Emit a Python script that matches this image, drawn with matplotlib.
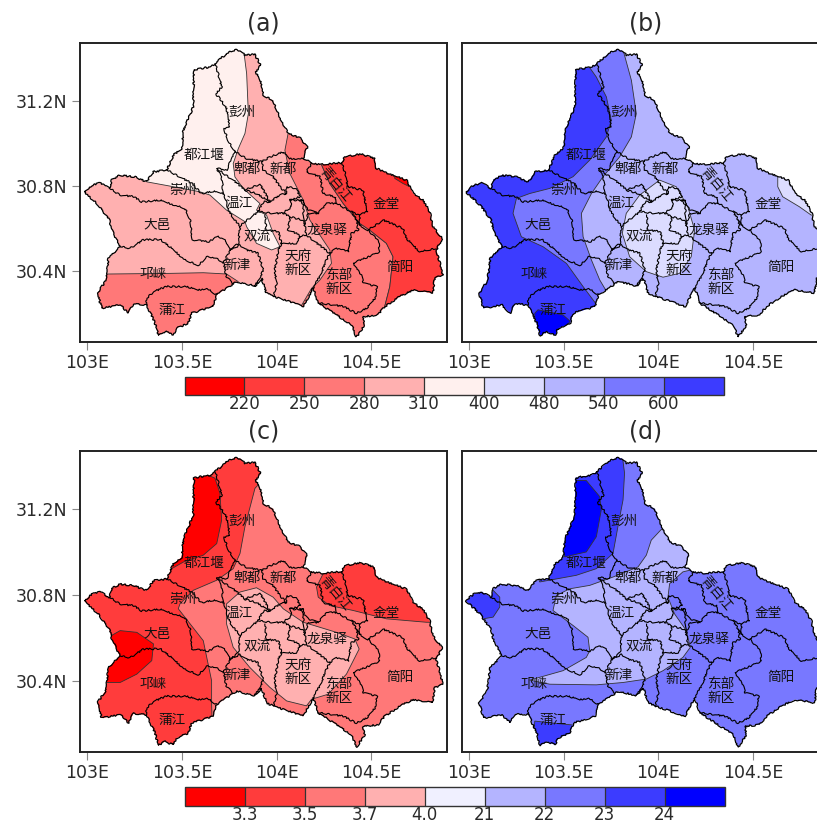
import matplotlib
matplotlib.use("Agg")
import matplotlib.pyplot as plt
from matplotlib.patches import Polygon
from matplotlib.colors import ListedColormap, BoundaryNorm
from matplotlib.colorbar import ColorbarBase

# ---- map geometry (lon, lat) ----
OUTLINE = [(103.735,31.422),(103.779,31.440),(103.806,31.437),(103.832,31.414),(103.885,31.418),(103.915,31.367),
(103.890,31.336),(103.920,31.281),(103.929,31.226),(103.981,31.203),(104.017,31.117),(104.060,31.047),(104.122,31.028),
(104.161,30.984),(104.140,30.929),(104.184,30.909),(104.236,30.901),(104.342,30.909),(104.359,30.937),(104.447,30.950),
(104.518,30.929),(104.526,30.883),(104.597,30.856),(104.685,30.828),(104.720,30.765),(104.772,30.734),(104.808,30.679),
(104.825,30.609),(104.874,30.554),(104.843,30.500),(104.878,30.383),(104.834,30.367),(104.825,30.297),(104.720,30.312),
(104.649,30.281),(104.570,30.234),(104.535,30.195),(104.456,30.187),(104.465,30.148),(104.421,30.090),(104.395,30.148),
(104.342,30.179),(104.219,30.250),(104.192,30.320),(104.140,30.234),(104.052,30.262),(103.985,30.281),(103.946,30.297),
(103.920,30.367),(103.885,30.331),(103.788,30.351),(103.735,30.320),(103.683,30.289),(103.665,30.234),(103.551,30.203),
(103.533,30.156),(103.472,30.133),(103.454,30.101),(103.410,30.117),(103.375,30.097),(103.357,30.156),(103.313,30.242),
(103.243,30.247),(103.217,30.203),(103.173,30.242),(103.076,30.226),(103.053,30.297),(103.094,30.351),(103.102,30.390),
(103.111,30.461),(103.173,30.515),(103.129,30.593),(103.116,30.640),(103.058,30.711),(102.983,30.773),(103.023,30.804),
(103.067,30.815),(103.116,30.789),(103.129,30.831),(103.173,30.851),(103.252,30.843),(103.313,30.820),(103.349,30.867),
(103.419,30.875),(103.454,30.945),(103.498,30.976),(103.507,31.062),(103.559,31.172),(103.563,31.347),(103.647,31.359),
(103.674,31.375)]

BORDERS = [
 [(103.674,31.375),(103.691,31.328),(103.709,31.265),(103.677,31.234),(103.700,31.211),(103.735,31.164),(103.753,31.078),
  (103.721,31.070),(103.744,31.015),(103.779,30.961),(103.753,30.914),(103.735,30.875),(103.683,30.883),(103.709,30.843),
  (103.718,30.765),(103.753,30.672),(103.806,30.609),(103.797,30.531),(103.753,30.500)],
 [(103.779,30.961),(103.841,30.929),(103.920,30.914),(103.964,30.937),(104.034,30.961),(104.069,30.929),(104.140,30.929)],
 [(103.419,30.875),(103.489,30.843),(103.551,30.812),(103.603,30.765),(103.665,30.776),(103.718,30.765)],
 [(103.116,30.789),(103.173,30.758),(103.243,30.750),(103.287,30.726),(103.384,30.734),(103.436,30.718),(103.516,30.695),
  (103.545,30.640),(103.551,30.547),(103.639,30.539),(103.691,30.565),(103.735,30.539),(103.753,30.500)],
 [(103.173,30.515),(103.225,30.508),(103.296,30.547),(103.384,30.550),(103.436,30.515),(103.516,30.453),(103.586,30.429),
  (103.630,30.468),(103.683,30.461),(103.718,30.437),(103.735,30.375),(103.770,30.343)],
 [(103.753,30.500),(103.718,30.437)],
 [(103.753,30.500),(103.806,30.523),(103.841,30.500),(103.902,30.484),(103.929,30.406),(103.911,30.367),(103.885,30.331)],
 [(103.313,30.242),(103.313,30.273),(103.349,30.304),(103.419,30.328),(103.524,30.328),(103.586,30.312),(103.630,30.320),(103.683,30.289)],
 [(103.691,30.875),(103.770,30.828),(103.832,30.781),(103.893,30.765),(103.964,30.726)],
 [(103.832,30.781),(103.911,30.809),(103.964,30.726)],
 [(103.920,30.914),(103.929,30.875),(103.981,30.843),(104.017,30.797),(104.052,30.765),(104.017,30.758),(103.964,30.726)],
 [(104.052,30.765),(104.052,30.797),(104.104,30.789),(104.122,30.750),(104.069,30.734),(104.140,30.734),(104.122,30.734)],
 [(104.184,30.909),(104.157,30.867),(104.228,30.843),(104.245,30.765),(104.307,30.750),(104.315,30.718),(104.263,30.718),
  (104.219,30.672),(104.166,30.687),(104.122,30.734)],
 [(104.148,30.617),(104.166,30.672),(104.219,30.672)],
 [(104.315,30.718),(104.395,30.679),(104.421,30.640),(104.430,30.593),(104.395,30.578),(104.377,30.492),(104.315,30.508),(104.280,30.484)],
 [(104.122,30.562),(104.157,30.570),(104.280,30.484),(104.254,30.437),(104.236,30.390),(104.192,30.320)],
 [(104.157,30.570),(104.148,30.617)],
 [(103.985,30.281),(103.999,30.343),(103.990,30.406),(104.008,30.500),(104.025,30.531),(104.104,30.531),(104.122,30.562)],
 [(103.806,30.609),(103.832,30.633),(103.902,30.679),(103.929,30.726),(103.964,30.726)],
 [(103.902,30.679),(103.981,30.672),(104.034,30.672),(104.069,30.656),(104.140,30.640),(104.148,30.617)],
 [(103.937,30.664),(103.946,30.593),(104.008,30.586),(104.025,30.531)],
 [(104.034,30.672),(104.078,30.703),(104.069,30.734)],
 [(104.069,30.656),(104.060,30.593),(104.104,30.578),(104.122,30.562)],
 [(104.140,30.734),(104.140,30.640)],
 [(104.342,30.909),(104.368,30.843),(104.372,30.797),(104.456,30.781),(104.477,30.679),(104.438,30.664),(104.438,30.617),(104.482,30.593)],
 [(104.438,30.664),(104.395,30.679)],
 [(104.421,30.640),(104.438,30.617)],
 [(104.482,30.593),(104.562,30.640),(104.667,30.601),(104.685,30.554),(104.755,30.492),(104.843,30.508)],
 [(104.219,30.250),(104.298,30.242),(104.351,30.234),(104.421,30.203),(104.474,30.226),(104.518,30.273),(104.530,30.328),
  (104.456,30.343),(104.447,30.383),(104.403,30.437),(104.544,30.492),(104.535,30.547),(104.482,30.593)],
]

# ---- contour zones (lon, lat), painted in order over the base colour ----
A_MID = [(103.823,31.453),(103.841,31.328),(103.850,31.140),(103.832,31.047),(103.797,30.976),(103.770,30.906),(103.779,30.843),
 (103.823,30.789),(103.911,30.718),(103.893,30.687),(103.946,30.664),(103.981,30.578),(104.017,30.515),(103.973,30.500),
 (103.893,30.531),(103.841,30.609),(103.832,30.633),(103.735,30.687),(103.647,30.758),(103.595,30.773),(103.454,30.797),
 (103.313,30.820),(103.261,30.859),(103.349,31.484),(103.823,31.484)]
A_SW = [(102.997,30.386),(103.111,30.387),(103.436,30.390),(103.612,30.393),(103.735,30.387),(103.797,30.351),(103.735,30.297),
 (103.683,30.047),(102.997,30.047)]
A_EAST = [(104.060,31.047),(104.043,30.968),(104.069,30.859),(104.140,30.734),(104.175,30.640),(104.280,30.500),(104.289,30.437),
 (104.228,30.359),(104.184,30.320),(104.122,30.226),(104.140,30.047),(104.570,30.047),(104.570,30.234),(104.597,30.328),
 (104.614,30.468),(104.579,30.531),(104.491,30.593),(104.438,30.625),(104.351,30.718),(104.280,30.812),(104.236,30.901),(104.228,31.062)]
A_FAR = [(104.236,30.901),(104.280,30.812),(104.351,30.718),(104.438,30.625),(104.491,30.593),(104.579,30.531),(104.614,30.468),
 (104.597,30.328),(104.570,30.234),(104.570,30.047),(104.931,30.047),(104.931,31.062),(104.228,31.062)]
A_PEAK = [(104.623,30.836),(104.667,30.812),(104.702,30.797),(104.702,30.859),(104.623,30.859)]

B_CORE = [(104.006,30.828),(104.094,30.797),(104.155,30.703),(104.191,30.593),(104.173,30.468),(104.111,30.390),(104.024,30.372),
 (103.936,30.398),(103.848,30.468),(103.809,30.578),(103.830,30.672),(103.901,30.758)]
B_NE = [(104.630,30.844),(104.630,30.797),(104.656,30.750),(104.744,30.703),(104.806,30.664),(104.920,30.656),(104.920,30.906),(104.630,30.906)]
B_WEST = [(103.804,31.469),(103.857,31.297),(103.883,31.140),(103.857,31.031),(103.795,30.937),(103.707,30.844),(103.646,30.765),
 (103.593,30.672),(103.602,30.562),(103.646,30.453),(103.690,30.359),(103.742,30.281),(103.742,30.031),(102.909,30.031),(102.909,31.469)]
B_FAR = [(103.610,31.390),(103.672,31.312),(103.725,31.219),(103.751,31.109),(103.725,31.031),(103.637,30.922),(103.549,30.844),
 (103.426,30.789),(103.320,30.765),(103.250,30.742),(103.232,30.672),(103.276,30.562),(103.391,30.515),(103.514,30.437),
 (103.602,30.328),(103.681,30.234),(103.681,30.031),(102.909,30.031),(102.909,31.390)]
B_PEAK = [(103.347,30.203),(103.364,30.219),(103.496,30.195),(103.535,30.164),(103.496,30.133),(103.461,30.086),(103.461,30.031),(103.347,30.031)]

C_CORE = [(103.893,30.834),(103.981,30.790),(104.034,30.736),(104.140,30.673),(104.315,30.626),(104.412,30.595),(104.435,30.548),
 (104.368,30.431),(104.271,30.337),(104.184,30.314),(104.157,30.283),(104.052,30.306),(103.964,30.369),(103.858,30.462),
 (103.770,30.556),(103.735,30.665),(103.735,30.759),(103.806,30.814)]
C_WEST = [(103.902,31.314),(103.885,31.298),(103.832,31.119),(103.806,30.994),(103.770,30.923),(103.683,30.869),(103.559,30.822),
 (103.489,30.759),(103.480,30.736),(103.612,30.587),(103.656,30.400),(103.656,30.290),(103.665,30.031),(102.909,30.031),
 (102.909,31.484),(103.893,31.484),(103.929,31.375)]
C_NE = [(104.245,30.900),(104.210,30.837),(104.219,30.790),(104.280,30.751),(104.403,30.728),(104.579,30.689),(104.790,30.673),
 (104.931,30.673),(104.931,31.062),(104.245,31.062)]
C_PEAK1 = [(103.445,30.923),(103.507,30.954),(103.612,30.986),(103.683,31.040),(103.709,31.150),(103.700,31.275),(103.674,31.345),
 (103.612,31.369),(103.436,31.369),(103.419,30.923)]
C_PEAK2 = [(103.111,30.603),(103.173,30.634),(103.261,30.626),(103.349,30.572),(103.340,30.494),(103.261,30.431),(103.173,30.392),
 (103.102,30.392),(103.076,30.509)]

D_CORE = [(104.015,31.106),(103.962,31.056),(103.936,30.986),(103.892,30.931),(103.760,30.884),(103.637,30.845),(103.531,30.829),
 (103.461,30.798),(103.443,30.728),(103.549,30.658),(103.628,30.603),(103.637,30.540),(103.619,30.509),(103.496,30.447),
 (103.320,30.403),(103.426,30.384),(103.672,30.381),(103.813,30.392),(103.936,30.408),(104.024,30.447),(104.129,30.509),
 (104.168,30.556),(104.147,30.634),(104.085,30.712),(104.050,30.790),(104.059,30.853),(104.129,30.908),(104.199,30.923),(104.199,31.056)]
D_NW = [(103.804,31.484),(103.821,31.369),(103.813,31.244),(103.786,31.119),(103.760,30.994),(103.672,30.923),(103.566,30.892),
 (103.373,30.861),(103.356,30.900),(103.250,31.212),(103.426,31.484)]
D_PEAK = [(103.619,31.334),(103.690,31.259),(103.698,31.197),(103.672,31.072),(103.619,31.001),(103.505,30.978),(103.479,31.056),(103.496,31.337)]
D_LOBE = [(103.127,30.822),(103.162,30.790),(103.162,30.744),(103.127,30.697),(103.074,30.689),(102.909,30.697),(102.909,30.812),(103.074,30.822)]
D_SOUTH = [(103.347,30.212),(103.426,30.204),(103.566,30.192),(103.566,30.031),(103.331,30.031)]

COLORS_TOP = ['#FF0000','#FF3C3C','#FF7878','#FFB0B0','#FFF0EE','#DCDCFF','#B4B4FF','#7878FF','#3C3CFF']
COLORS_BOT = ['#FF0000','#FF3C3C','#FF7878','#FFB0B0','#F0F0FF','#B4B4FF','#7878FF','#3C3CFF','#0000FF']
LEVELS_TOP = ['220','250','280','310','400','480','540','600']
LEVELS_BOT = ['3.3','3.5','3.7','4.0','21','22','23','24']

# panel -> (title, base colour, [(zone, colour), ...])
PANELS = {
 'a': ('(a)', '#FFB0B0', [(A_MID,'#FFF0EE'),(A_SW,'#FF7878'),(A_EAST,'#FF7878'),(A_FAR,'#FF3C3C'),(A_PEAK,'#FF0000')]),
 'b': ('(b)', '#B4B4FF', [(B_CORE,'#DCDCFF'),(B_NE,'#DCDCFF'),(B_WEST,'#7878FF'),(B_FAR,'#3C3CFF'),(B_PEAK,'#0000FF')]),
 'c': ('(c)', '#FF7878', [(C_CORE,'#FFB0B0'),(C_WEST,'#FF3C3C'),(C_NE,'#FF3C3C'),(C_PEAK1,'#FF0000'),(C_PEAK2,'#FF0000')]),
 'd': ('(d)', '#7878FF', [(D_CORE,'#B4B4FF'),(D_NW,'#3C3CFF'),(D_PEAK,'#0000FF'),(D_LOBE,'#3C3CFF'),(D_SOUTH,'#3C3CFF')]),
}
PLACES = [('彭州',103.816,31.148,0),('都江堰',103.616,30.948,0),('郫都',103.841,30.879,0),('新都',104.034,30.879,0),
 ('青白江',104.307,30.809,-50),('崇州',103.503,30.781,0),('温江',103.802,30.719,0),('金堂',104.579,30.715,0),
 ('大邑',103.366,30.617,0),('双流',103.899,30.562,0),('龙泉驿',104.266,30.594,0),('天府\n新区',104.110,30.440,0),
 ('新津',103.792,30.429,0),('简阳',104.649,30.419,0),('东部\n新区',104.329,30.351,0),('邛崃',103.345,30.386,0),('蒲江',103.445,30.219,0)]
XTICKS = [103, 103.5, 104, 104.5]
XLABELS = ['103E','103.5E','104E','104.5E']
YTICKS = [30.4, 30.8, 31.2]
YLABELS = ['30.4N','30.8N','31.2N']

W, H = 817, 823
fig = plt.figure(figsize=(W/100, H/100), dpi=100)
def px_axes(l, t, r, b):
    return fig.add_axes([l/W, 1-b/H, (r-l)/W, (b-t)/H])

BOXES = {'a':(80,43,447,341.5), 'b':(461.7,43,828.7,341.5), 'c':(80,451,447,751.5), 'd':(461.7,451,828.7,751.5)}
INK = '#2a2a2a'
SKETCH = (0.8, 7, 12)   # the hand-digitised boundaries are simplified; the stroke restores their rough look
for key, (title, base, zones) in PANELS.items():
    ax = px_axes(*BOXES[key])
    ax.set_xlim(102.961, 104.899)
    ax.set_ylim(30.070, 31.472)
    land = Polygon(OUTLINE, closed=True, facecolor=base, edgecolor='none', zorder=1)
    ax.add_patch(land)
    for z, (zone, col) in enumerate(zones):
        p = Polygon(zone, closed=True, facecolor=col, edgecolor='#333333', lw=0.6, zorder=2+z*0.01)
        ax.add_patch(p)
        p.set_clip_path(land)
    for line in BORDERS:
        l, = ax.plot([q[0] for q in line], [q[1] for q in line], color='black', lw=0.8, zorder=3, solid_joinstyle='round')
        l.set_sketch_params(*SKETCH)
    rim = Polygon(OUTLINE, closed=True, facecolor='none', edgecolor='black', lw=0.9, zorder=3)
    rim.set_sketch_params(*SKETCH)
    ax.add_patch(rim)
    for name, lon, lat, rot in PLACES:
        ax.text(lon, lat, name, ha='center', va='center', rotation=rot, fontsize=9.8, color='#111111',
                family=['Noto Sans CJK SC','DejaVu Sans'], linespacing=1.0, zorder=4)
    ax.set_xticks(XTICKS); ax.set_xticklabels(XLABELS)
    ax.set_yticks(YTICKS)
    if key in 'ac':
        ax.set_yticklabels(YLABELS)
    else:
        ax.set_yticklabels([])
    ax.tick_params(length=6, width=0.8, color='#888888', labelsize=12.5, labelcolor=INK, pad=3)
    if key not in 'ac':
        ax.tick_params(axis='y', length=0)
    for s in ax.spines.values():
        s.set_linewidth(1.4); s.set_color('#222222')
    cx = BOXES[key][0] + 183.5
    fig.text(cx/W, 1-(BOXES[key][1]-19)/H, title, ha='center', va='center', fontsize=17, color=INK)

def bar(box, colors, labels):
    cax = px_axes(*box)
    cmap = ListedColormap(colors)
    bounds = list(range(len(colors)+1))
    cb = ColorbarBase(cax, cmap=cmap, norm=BoundaryNorm(bounds, cmap.N), orientation='horizontal',
                      boundaries=bounds, ticks=bounds[1:-1], drawedges=True)
    cb.ax.set_xticklabels(labels)
    cb.ax.minorticks_off()
    cb.ax.tick_params(which='both', length=0, labelsize=12, labelcolor=INK, pad=0)
    cb.dividers.set_color('#333333'); cb.dividers.set_linewidth(0.9)
    cb.outline.set_edgecolor('#333333'); cb.outline.set_linewidth(1.0)

bar((184.5,377,723.5,395), COLORS_TOP, LEVELS_TOP)
bar((184.5,787,724.5,805.5), COLORS_BOT, LEVELS_BOT)
fig.savefig('out.png', dpi=100)
